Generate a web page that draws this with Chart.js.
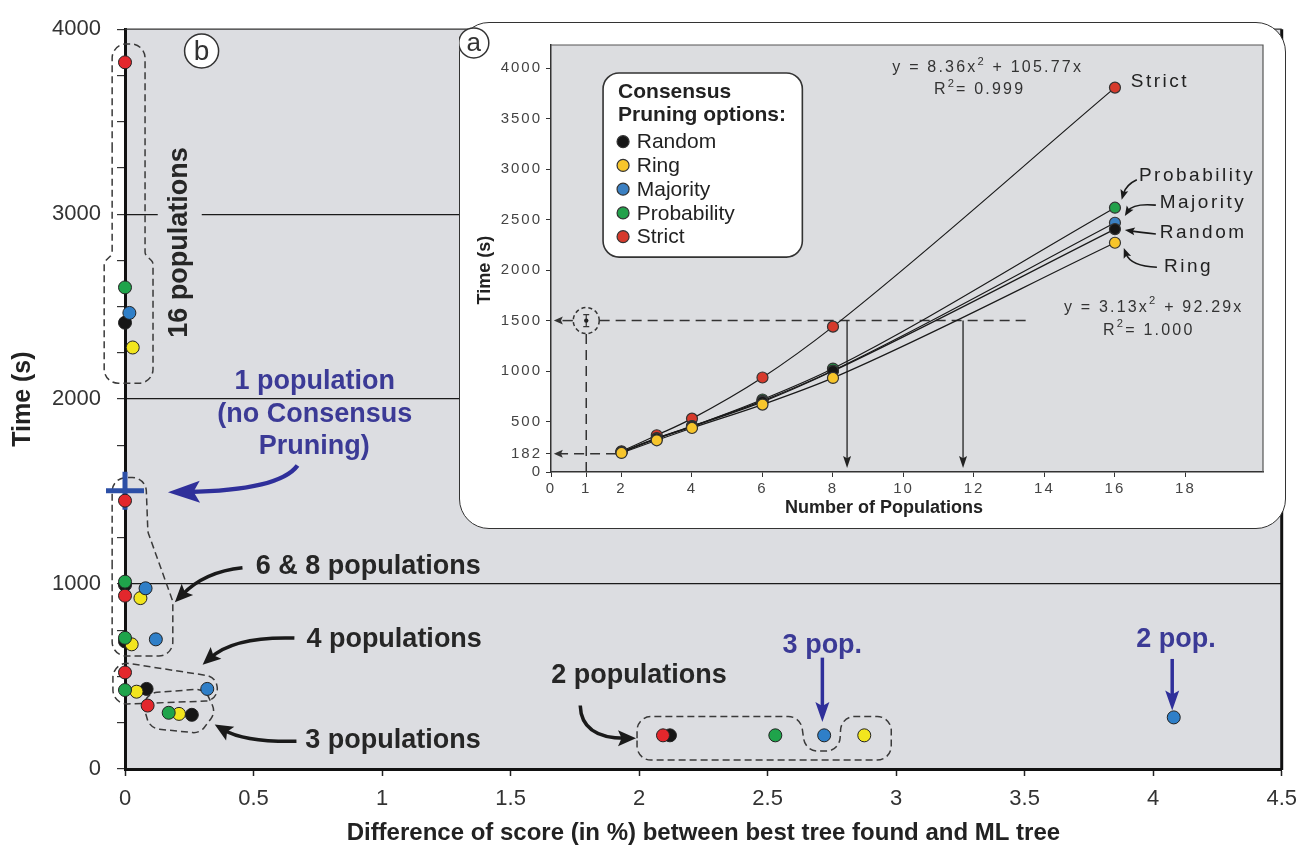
<!DOCTYPE html>
<html>
<head>
<meta charset="utf-8">
<script src="https://cdn.jsdelivr.net/npm/chart.js@4.4.1/dist/chart.umd.min.js"></script>
<style>
  html, body { margin: 0; padding: 0; background: #fff; }
  #wrap { position: relative; width: 1307px; height: 853px; }
  #main { position: absolute; left: 0; top: 0; }
  #insetBox { position: absolute; left: 459px; top: 22px; width: 827px; height: 507px; box-sizing: border-box;
              background: #fff; border: 1.5px solid #333; border-radius: 30px; }
  #inset { position: absolute; left: 459px; top: 22px; }
</style>
</head>
<body>
<div id="wrap">
  <canvas id="main" width="1307" height="853"></canvas>
  <div id="insetBox"></div>
  <canvas id="inset" width="827" height="507"></canvas>
</div>
<script>
var seriesNames = ["Random", "Ring", "Majority", "Probability", "Strict"];
var populations = [2, 3, 4, 6, 8, 16];

// panel b : score difference (%) and time (s) for 2,3,4,6,8,16 populations
var scoreRandom = [2.12, 0.26, 0.084, 0, 0, 0];
var timeRandom = [182, 293, 433, 690, 995, 2413];
var scoreRing = [2.876, 0.21, 0.045, 0.026, 0.06, 0.03];
var timeRing = [182, 298, 418, 674, 924, 2279];
var scoreMajority = [4.08, 2.72, 0.32, 0.12, 0.08, 0.017];
var timeMajority = [279, 182, 433, 701, 977, 2466];
var scoreProbability = [2.53, 0.17, 0, 0, 0, 0];
var timeProbability = [182, 304, 427, 709, 1013, 2604];
var scoreStrict = [2.093, 0.088, 0, 0, 0, 0];
var timeStrict = [182, 343, 522, 937, 1451, 3821];
var onePopScore = [0];
var onePopTime = [1505];

// panel a : time (s) against number of populations
var insetRandom = [195, 330, 450, 695, 1000, 2406];
var insetRing = [189, 314, 436, 668, 932, 2271];
var insetMajority = [200, 335, 455, 705, 1005, 2469];
var insetProbability = [198, 332, 452, 718, 1025, 2618];
var insetStrict = [205, 364, 529, 936, 1440, 3808];

var xTicksInset = [0, 1, 2, 4, 6, 8, 10, 12, 14, 16, 18];
var yTicksInset = [0, 182, 500, 1000, 1500, 2000, 2500, 3000, 3500, 4000];

var mainColors = ["#161616", "#f2e51e", "#2f7fc8", "#1fa44b", "#e3272c"];
var insetColors = ["#161616", "#f7c52b", "#3b80c2", "#23a14b", "#d63a2c"];

var FONT = "'Liberation Sans', Arial, sans-serif";

// ---------- drawing helpers ----------
function roundedPoly(ctx, pts, r) {
    var n = pts.length;
    ctx.beginPath();
    ctx.moveTo((pts[n - 1][0] + pts[0][0]) / 2, (pts[n - 1][1] + pts[0][1]) / 2);
    for (var i = 0; i < n; i++) {
        var prev = pts[(i - 1 + n) % n], p = pts[i], q = pts[(i + 1) % n];
        var d1 = Math.hypot(p[0] - prev[0], p[1] - prev[1]);
        var d2 = Math.hypot(q[0] - p[0], q[1] - p[1]);
        ctx.arcTo(p[0], p[1], q[0], q[1], Math.min(r, d1 / 2, d2 / 2));
    }
    ctx.closePath();
}

function arrow(ctx, p0, c, p1, o) {
    var ang = Math.atan2(p1[1] - c[1], p1[0] - c[0]);
    var L = o.head, W = o.headW;
    var cs = Math.cos(ang), sn = Math.sin(ang);
    var end = [p1[0] - cs * L * 0.6, p1[1] - sn * L * 0.6];
    ctx.save();
    ctx.strokeStyle = o.color;
    ctx.fillStyle = o.color;
    ctx.lineWidth = o.width;
    ctx.setLineDash(o.dash || []);
    ctx.beginPath();
    ctx.moveTo(p0[0], p0[1]);
    ctx.quadraticCurveTo(c[0], c[1], end[0], end[1]);
    ctx.stroke();
    ctx.setLineDash([]);
    ctx.beginPath();
    ctx.moveTo(p1[0], p1[1]);
    ctx.lineTo(p1[0] - cs * L - sn * W, p1[1] - sn * L + cs * W);
    ctx.lineTo(p1[0] - cs * L * 0.8, p1[1] - sn * L * 0.8);
    ctx.lineTo(p1[0] - cs * L + sn * W, p1[1] - sn * L - cs * W);
    ctx.closePath();
    ctx.fill();
    ctx.restore();
}

function text(ctx, s, x, y, font, color, align, spacing) {
    ctx.save();
    ctx.font = font;
    ctx.fillStyle = color;
    ctx.textAlign = align || "center";
    ctx.textBaseline = "middle";
    ctx.letterSpacing = spacing || "0px";
    ctx.fillText(s, x, y);
    ctx.restore();
}

// parts: [string, isSuperscript]
function supText(ctx, parts, cx, cy, size, color, spacing) {
    ctx.save();
    ctx.letterSpacing = spacing;
    ctx.fillStyle = color;
    ctx.textBaseline = "middle";
    ctx.textAlign = "left";
    var total = 0;
    parts.forEach(function (p) {
        ctx.font = (p[1] ? size * 0.7 : size) + "px " + FONT;
        total += ctx.measureText(p[0]).width;
    });
    var x = cx - total / 2;
    parts.forEach(function (p) {
        ctx.font = (p[1] ? size * 0.7 : size) + "px " + FONT;
        ctx.fillText(p[0], x, p[1] ? cy - size * 0.4 : cy);
        x += ctx.measureText(p[0]).width;
    });
    ctx.restore();
}

function circledLetter(ctx, ch, x, y, r, size) {
    ctx.save();
    ctx.beginPath();
    ctx.arc(x, y, r, 0, Math.PI * 2);
    ctx.fillStyle = "#fff";
    ctx.fill();
    ctx.lineWidth = 1.5;
    ctx.strokeStyle = "#333";
    ctx.stroke();
    ctx.restore();
    text(ctx, ch, x, y + 1, size + "px " + FONT, "#333");
}

// ---------- panel b ----------
var mainScores = [scoreRandom, scoreRing, scoreMajority, scoreProbability, scoreStrict];
var mainTimes = [timeRandom, timeRing, timeMajority, timeProbability, timeStrict];

var mainSets = seriesNames.map(function (name, i) {
    return {
        label: name,
        data: mainScores[i].map(function (s, k) { return { x: s, y: mainTimes[i][k] }; }),
        backgroundColor: mainColors[i],
        borderColor: "#222",
        borderWidth: 1,
        pointRadius: 6.5,
        showLine: false,
        clip: false,
        order: 5 - i
    };
});
mainSets.push({
    label: "1 population",
    data: onePopScore.map(function (s, k) { return { x: s, y: onePopTime[k] }; }),
    pointStyle: "cross",
    pointRadius: 19,
    borderColor: "#2c4fa6",
    borderWidth: 5,
    clip: false,
    order: 10
});

var panelB = {
    id: "panelB",
    beforeDraw: function (chart) {
        var ctx = chart.ctx, a = chart.chartArea;
        ctx.save();
        ctx.fillStyle = "#dcdde1";
        ctx.fillRect(a.left, a.top, a.right - a.left, a.bottom - a.top);
        ctx.restore();
    },
    beforeDatasetsDraw: function (chart) {
        var ctx = chart.ctx, a = chart.chartArea;
        var sx = chart.scales.x, sy = chart.scales.y;
        var P = function (x, y) { return [sx.getPixelForValue(x), sy.getPixelForValue(y)]; };

        // frame: thin top, thick right
        ctx.save();
        ctx.strokeStyle = "#333";
        ctx.lineWidth = 1.2;
        ctx.beginPath(); ctx.moveTo(a.left, a.top); ctx.lineTo(a.right, a.top); ctx.stroke();
        ctx.strokeStyle = "#111";
        ctx.lineWidth = 3;
        ctx.beginPath(); ctx.moveTo(a.right, a.top); ctx.lineTo(a.right, a.bottom + 1); ctx.stroke();
        ctx.restore();

        // dashed group outlines
        var outlines = [
            [[-0.050, 3920], [0.078, 3920], [0.078, 2783], [0.109, 2740], [0.109, 2086], [-0.081, 2086], [-0.081, 2740], [-0.050, 2783]],
            [[-0.050, 1576], [0.081, 1576], [0.089, 1282], [0.186, 906], [0.186, 611], [-0.050, 611]],
            [[-0.047, 584], [0.349, 499], [0.372, 370], [-0.047, 349]],
            [[0.058, 408], [0.310, 434], [0.353, 306], [0.291, 193], [0.097, 220]],
            [[1.992, 284], [2.628, 284], [2.647, 97], [2.779, 97], [2.787, 284], [2.981, 284], [2.981, 48], [1.992, 48]]
        ];
        ctx.save();
        ctx.strokeStyle = "#3a3a3a";
        ctx.lineWidth = 1.5;
        ctx.setLineDash([7, 4]);
        outlines.forEach(function (o) {
            roundedPoly(ctx, o.map(function (p) { return P(p[0], p[1]); }), 14);
            ctx.stroke();
        });
        ctx.restore();

        var bold = "bold 27px " + FONT;
        var dark = "#262626", blue = "#3b3a96";

        // "16 populations", vertical, with a gap in the grid line
        var c16 = P(0.213, 2847);
        ctx.save();
        ctx.translate(c16[0], c16[1]);
        ctx.rotate(-Math.PI / 2);
        ctx.fillStyle = "#dcdde1";
        ctx.fillRect(-100, -22, 200, 44);
        ctx.restore();
        ctx.save();
        ctx.translate(c16[0], c16[1]);
        ctx.rotate(-Math.PI / 2);
        text(ctx, "16 populations", 0, 0, bold, dark);
        ctx.restore();

        var labels = [
            ["1 population", 0.738, 2095, blue],
            ["(no Consensus", 0.738, 1916, blue],
            ["Pruning)", 0.736, 1746, blue],
            ["6 & 8 populations", 0.946, 1094, dark],
            ["4 populations", 1.047, 701, dark],
            ["3 populations", 1.043, 155, dark],
            ["2 populations", 2.0, 504, dark],
            ["3 pop.", 2.713, 665, blue],
            ["2 pop.", 4.089, 701, blue]
        ];
        labels.forEach(function (l) {
            var p = P(l[1], l[2]);
            text(ctx, l[0], p[0], p[1], bold, l[3]);
        });

        var blackArrow = { color: "#1a1a1a", width: 3.5, head: 18, headW: 8 };
        var blueArrow = { color: "#2f2f9a", width: 4.5, head: 32, headW: 11 };
        var blueStraight = { color: "#2f2f9a", width: 3.5, head: 20, headW: 7 };
        arrow(ctx, P(0.671, 1641), P(0.601, 1507), P(0.167, 1496), blueArrow);
        arrow(ctx, P(0.457, 1088), P(0.310, 1067), P(0.194, 901), blackArrow);
        arrow(ctx, P(0.659, 708), P(0.426, 718), P(0.302, 563), blackArrow);
        arrow(ctx, P(0.667, 150), P(0.465, 145), P(0.349, 241), blackArrow);
        arrow(ctx, P(1.771, 343), P(1.775, 166), P(1.988, 166), blackArrow);
        arrow(ctx, P(2.713, 602), P(2.713, 420), P(2.713, 254), blueStraight);
        arrow(ctx, P(4.074, 595), P(4.074, 450), P(4.074, 316), blueStraight);

        var pb = P(0.298, 3882);
        circledLetter(ctx, "b", pb[0], pb[1], 17, 28);
    }
};

new Chart("main", {
    type: "scatter",
    data: { datasets: mainSets },
    options: {
        responsive: false,
        animation: false,
        layout: { padding: { top: 22, right: 21, left: 0, bottom: 0 } },
        plugins: { legend: { display: false }, tooltip: { enabled: false } },
        scales: {
            x: {
                type: "linear",
                min: 0,
                max: 4.5,
                ticks: {
                    stepSize: 0.5,
                    font: { family: FONT, size: 22 },
                    color: "#333",
                    padding: 10,
                    maxRotation: 0,
                    callback: function (v) { return String(Math.round(v * 10) / 10); }
                },
                grid: { drawOnChartArea: false, tickLength: 7, tickColor: "#222", tickWidth: 1.5 },
                border: { color: "#111", width: 3 },
                title: {
                    display: true,
                    text: "Difference of score (in %) between best tree found and ML tree",
                    font: { family: FONT, size: 24, weight: "bold" },
                    color: "#222",
                    padding: { top: 0, bottom: 5 }
                },
                afterFit: function (s) { s.height = 84; }
            },
            y: {
                type: "linear",
                min: 0,
                max: 4000,
                ticks: {
                    stepSize: 250,
                    font: { family: FONT, size: 22 },
                    color: "#333",
                    padding: 16,
                    callback: function (v) { return v % 1000 === 0 ? String(v) : ""; }
                },
                grid: {
                    color: function (c) {
                        var v = c.tick ? c.tick.value : 0;
                        return (v > 0 && v < 4000 && v % 1000 === 0) ? "#1a1a1a" : "rgba(0,0,0,0)";
                    },
                    lineWidth: 1.2,
                    tickLength: 8,
                    tickColor: "#333"
                },
                border: { color: "#111", width: 3 },
                title: {
                    display: true,
                    text: "Time (s)",
                    font: { family: FONT, size: 25, weight: "bold" },
                    color: "#222",
                    padding: { top: 8, bottom: 0 }
                },
                afterFit: function (s) { s.width = 125; }
            }
        }
    },
    plugins: [panelB]
});

// ---------- panel a (inset) ----------
var insetTimes = [insetRandom, insetRing, insetMajority, insetProbability, insetStrict];
var insetOrder = [2, 1, 3, 4, 5];

var insetSets = seriesNames.map(function (name, i) {
    return {
        label: name,
        data: populations.map(function (p, k) { return { x: p, y: insetTimes[i][k] }; }),
        showLine: true,
        borderColor: "#1a1a1a",
        borderWidth: 1.2,
        cubicInterpolationMode: "monotone",
        pointBackgroundColor: insetColors[i],
        pointBorderColor: "#333",
        pointBorderWidth: 1.2,
        pointRadius: 5.5,
        clip: false,
        order: insetOrder[i]
    };
});

var panelA = {
    id: "panelA",
    beforeDraw: function (chart) {
        var ctx = chart.ctx, a = chart.chartArea;
        ctx.letterSpacing = "2px";
        ctx.save();
        ctx.fillStyle = "#dcdde0";
        ctx.fillRect(a.left, a.top, a.right - a.left, a.bottom - a.top);
        ctx.restore();
    },
    beforeDatasetsDraw: function (chart) {
        var ctx = chart.ctx, a = chart.chartArea;
        var sx = chart.scales.x, sy = chart.scales.y;
        var P = function (x, y) { return [sx.getPixelForValue(x), sy.getPixelForValue(y)]; };

        ctx.save();
        ctx.strokeStyle = "#555";
        ctx.lineWidth = 1.2;
        ctx.beginPath();
        ctx.moveTo(a.left, a.top); ctx.lineTo(a.right, a.top); ctx.lineTo(a.right, a.bottom);
        ctx.stroke();
        ctx.restore();

        // axis titles
        var ty = P(0, 2000);
        ctx.save();
        ctx.translate(a.left - 66, ty[1]);
        ctx.rotate(-Math.PI / 2);
        text(ctx, "Time (s)", 0, 0, "bold 18px " + FONT, "#222");
        ctx.restore();
        var tx = P(9.45, 0);
        text(ctx, "Number of Populations", tx[0], a.bottom + 36, "bold 18px " + FONT, "#222");

        // dashed guides
        var dashed = { color: "#333", width: 1.5, head: 9, headW: 4, dash: [10, 6] };
        var solid = { color: "#222", width: 1.3, head: 12, headW: 4 };
        arrow(ctx, P(0.62, 1500), P(0.4, 1500), P(0.08, 1500), dashed);
        arrow(ctx, P(1.85, 182), P(1.0, 182), P(0.08, 182), dashed);
        ctx.save();
        ctx.strokeStyle = "#333";
        ctx.lineWidth = 1.5;
        ctx.setLineDash([10, 6]);
        ctx.beginPath();
        var h0 = P(1.38, 1500), h1 = P(13.5, 1500);
        ctx.moveTo(h0[0], h0[1]); ctx.lineTo(h1[0], h1[1]);
        var v0 = P(1, 1368), v1 = P(1, 0);
        ctx.moveTo(v0[0], v0[1]); ctx.lineTo(v1[0], v1[1]);
        ctx.stroke();
        // dashed circle with the error bar of the single population run
        var cc = P(1, 1500);
        ctx.setLineDash([4, 3]);
        ctx.beginPath();
        ctx.arc(cc[0], cc[1], 13, 0, Math.PI * 2);
        ctx.stroke();
        ctx.setLineDash([]);
        ctx.lineWidth = 1.2;
        ctx.beginPath();
        ctx.moveTo(cc[0], cc[1] - 6); ctx.lineTo(cc[0], cc[1] + 6);
        ctx.moveTo(cc[0] - 3, cc[1] - 6); ctx.lineTo(cc[0] + 3, cc[1] - 6);
        ctx.moveTo(cc[0] - 3, cc[1] + 6); ctx.lineTo(cc[0] + 3, cc[1] + 6);
        ctx.stroke();
        ctx.beginPath();
        ctx.arc(cc[0], cc[1], 2.2, 0, Math.PI * 2);
        ctx.fillStyle = "#222";
        ctx.fill();
        ctx.restore();
        arrow(ctx, P(8.40, 1500), P(8.40, 700), P(8.40, 40), solid);
        arrow(ctx, P(11.69, 1500), P(11.69, 700), P(11.69, 40), solid);

        // legend box
        var b0 = P(1.477, 3953), b1 = P(7.131, 2129);
        ctx.save();
        roundedPoly(ctx, [[b0[0], b0[1]], [b1[0], b0[1]], [b1[0], b1[1]], [b0[0], b1[1]]], 16);
        ctx.fillStyle = "#fff";
        ctx.fill();
        ctx.lineWidth = 1.6;
        ctx.strokeStyle = "#333";
        ctx.stroke();
        ctx.restore();
        text(ctx, "Consensus", b0[0] + 15, b0[1] + 19, "bold 21px " + FONT, "#222", "left");
        text(ctx, "Pruning options:", b0[0] + 15, b0[1] + 42, "bold 21px " + FONT, "#222", "left");
        seriesNames.forEach(function (name, i) {
            var yy = b0[1] + 68.7 + i * 23.75;
            ctx.save();
            ctx.beginPath();
            ctx.arc(b0[0] + 20, yy, 6, 0, Math.PI * 2);
            ctx.fillStyle = insetColors[i];
            ctx.fill();
            ctx.lineWidth = 1.2;
            ctx.strokeStyle = "#333";
            ctx.stroke();
            ctx.restore();
            text(ctx, name, b0[0] + 33.7, yy + 1, "21px " + FONT, "#222", "left");
        });

        // fitted equations
        var e1 = P(12.39, 4003), e2 = P(12.16, 3785), e3 = P(17.10, 1633), e4 = P(16.96, 1405);
        supText(ctx, [["y = 8.36x", false], ["2", true], [" + 105.77x", false]], e1[0], e1[1], 16, "#333", "2.2px");
        supText(ctx, [["R", false], ["2", true], ["= 0.999", false]], e2[0], e2[1], 16, "#333", "2.2px");
        supText(ctx, [["y = 3.13x", false], ["2", true], [" + 92.29x", false]], e3[0], e3[1], 16, "#333", "2.2px");
        supText(ctx, [["R", false], ["2", true], ["= 1.000", false]], e4[0], e4[1], 16, "#333", "2.2px");

        // series names at 16 populations
        var tags = [
            ["Strict", 16.45, 3863],
            ["Probability", 16.68, 2930],
            ["Majority", 17.27, 2664],
            ["Random", 17.27, 2366],
            ["Ring", 17.39, 2029]
        ];
        tags.forEach(function (t) {
            var p = P(t[1], t[2]);
            text(ctx, t[0], p[0], p[1], "19px " + FONT, "#222", "left", "2.5px");
        });
        var thin = { color: "#1a1a1a", width: 1.6, head: 10, headW: 4 };
        arrow(ctx, P(16.62, 2896), P(16.31, 2846), P(16.19, 2697), thin);
        arrow(ctx, P(17.16, 2644), P(16.51, 2664), P(16.28, 2535), thin);
        arrow(ctx, P(17.16, 2357), P(16.7, 2377), P(16.28, 2397), thin);
        arrow(ctx, P(17.19, 2029), P(16.45, 2039), P(16.25, 2218), thin);

        var pa = P(-2.19, 4251);
        circledLetter(ctx, "a", pa[0], pa[1], 15, 26);
    }
};

new Chart("inset", {
    type: "scatter",
    data: { datasets: insetSets },
    options: {
        responsive: false,
        animation: false,
        layout: { padding: { top: 23, right: 23, left: 0, bottom: 0 } },
        plugins: { legend: { display: false }, tooltip: { enabled: false } },
        scales: {
            x: {
                type: "linear",
                min: 0,
                max: 20.2,
                afterBuildTicks: function (s) { s.ticks = xTicksInset.map(function (v) { return { value: v }; }); },
                ticks: {
                    font: { family: FONT, size: 15 },
                    color: "#444",
                    padding: 3,
                    autoSkip: false,
                    maxRotation: 0,
                    callback: function (v) { return String(v); }
                },
                grid: { drawOnChartArea: false, tickLength: 5, tickColor: "#333" },
                border: { color: "#333", width: 1.5 },
                afterFit: function (s) { s.height = 57; }
            },
            y: {
                type: "linear",
                min: 0,
                max: 4230,
                afterBuildTicks: function (s) { s.ticks = yTicksInset.map(function (v) { return { value: v }; }); },
                ticks: {
                    font: { family: FONT, size: 15 },
                    color: "#444",
                    padding: 4,
                    autoSkip: false,
                    callback: function (v) { return String(v); }
                },
                grid: { drawOnChartArea: false, tickLength: 5, tickColor: "#333" },
                border: { color: "#333", width: 1.5 },
                afterFit: function (s) { s.width = 92; }
            }
        }
    },
    plugins: [panelA]
});
</script>
</body>
</html>
